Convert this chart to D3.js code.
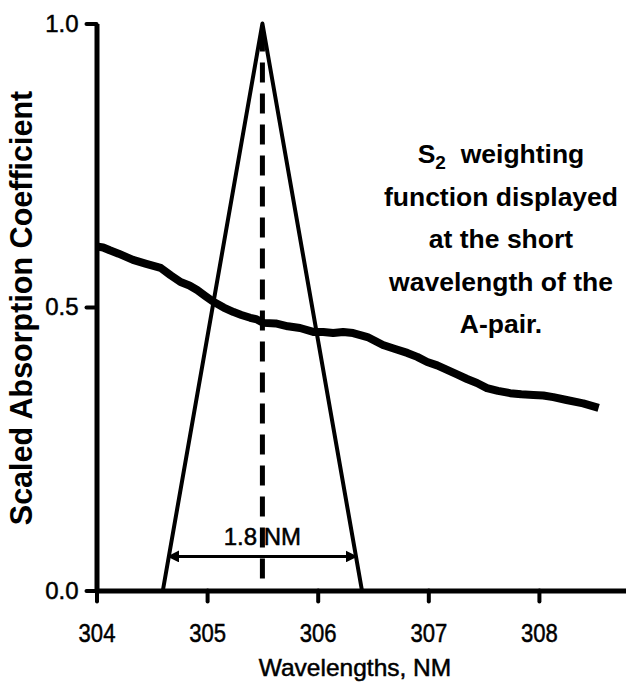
<!DOCTYPE html>
<html><head><meta charset="utf-8">
<script src="https://cdn.jsdelivr.net/npm/d3@7"></script>
<style>
html,body{margin:0;padding:0;background:#fff;}
svg text{font-family:"Liberation Sans",Arial,sans-serif;fill:#000;}
.heavy{stroke:#000;stroke-width:0.5px;}
</style></head>
<body>
<svg id="c" width="626" height="688"></svg>
<script>
// ---- data ----
const xTicks = [304, 305, 306, 307, 308];
const yTicks = [0.0, 0.5, 1.0];
const absWavelength = [304.00,304.06,304.12,304.20,304.33,304.45,304.58,304.67,304.76,304.84,304.91,304.98,305.06,305.15,305.24,305.31,305.39,305.45,305.51,305.62,305.73,305.84,305.96,306.05,306.14,306.23,306.32,306.45,306.52,306.59,306.70,306.81,306.90,306.99,307.08,307.17,307.26,307.35,307.44,307.53,307.63,307.74,307.84,307.95,308.04,308.13,308.25,308.40,308.54];
const absValue      = [0.607,0.605,0.600,0.594,0.583,0.576,0.569,0.556,0.544,0.538,0.530,0.520,0.509,0.499,0.491,0.486,0.481,0.478,0.472,0.471,0.466,0.463,0.456,0.456,0.454,0.456,0.454,0.447,0.440,0.433,0.426,0.419,0.412,0.403,0.397,0.389,0.381,0.373,0.366,0.357,0.352,0.348,0.346,0.345,0.344,0.341,0.336,0.330,0.322];
const triWavelength = [304.6, 305.5, 306.4];
const triValue      = [0, 1, 0];
const centerWavelength = 305.5;
const fwhmStart = 304.65, fwhmEnd = 306.35, fwhmLevel = 0.06;
const fwhmLabel = "1.8 NM";
const noteLines = ["function displayed","at the short","wavelength of the","A-pair."];

const svg = d3.select("#c");
const x = d3.scaleLinear().domain([304, 308.8]).range([96.5, 627.4]);
const y = d3.scaleLinear().domain([0, 1]).range([590.5, 23.5]);

// axes
const gx = svg.append("g").attr("transform", `translate(0,${y(0)})`)
  .call(d3.axisBottom(x).tickValues(xTicks).tickSize(11).tickSizeOuter(0).tickPadding(22).tickFormat(d3.format("d")));
const gy = svg.append("g").attr("transform", `translate(${x(304)},0)`)
  .call(d3.axisLeft(y).tickValues(yTicks).tickSize(10).tickSizeOuter(0).tickPadding(8).tickFormat(d3.format(".1f")));
[gx, gy].forEach(g => {
  g.select(".domain").attr("stroke", "#000").attr("stroke-width", 5);
  g.selectAll(".tick line").attr("stroke", "#000").attr("stroke-width", 4).attr("stroke-linecap", "round");
  g.selectAll(".tick text").attr("font-family", "Liberation Sans, Arial, sans-serif").attr("class", "heavy");
});
gx.selectAll(".tick text").attr("font-size", 26).attr("transform", "scale(0.85,1)");
gy.selectAll(".tick text").attr("font-size", 24);

// dashed center line
svg.append("line")
  .attr("x1", x(centerWavelength)).attr("x2", x(centerWavelength))
  .attr("y1", y(1) + 8).attr("y2", y(0))
  .attr("stroke", "#000").attr("stroke-width", 5).attr("stroke-dasharray", "20,11");

// triangle weighting function
const tri = triWavelength.map((w, i) => [w, triValue[i]]);
svg.append("path").datum(tri)
  .attr("d", d3.line().x(d => x(d[0])).y(d => y(d[1])))
  .attr("fill", "none").attr("stroke", "#000").attr("stroke-width", 4).attr("stroke-linejoin", "round");

// absorption curve
const abs = absWavelength.map((w, i) => [w, absValue[i]]);
svg.append("path").datum(abs)
  .attr("d", d3.line().x(d => x(d[0])).y(d => y(d[1])))
  .attr("fill", "none").attr("stroke", "#000").attr("stroke-width", 8).attr("stroke-linejoin", "round");

// FWHM arrow
svg.append("defs").html(`
 <marker id="ah" viewBox="0 0 10 10" refX="9" refY="5" markerWidth="4" markerHeight="4" orient="auto-start-reverse">
  <path d="M0,0 L10,5 L0,10 z" fill="#000"/></marker>`);
svg.append("line")
  .attr("x1", x(fwhmStart)).attr("x2", x(fwhmEnd))
  .attr("y1", y(fwhmLevel)).attr("y2", y(fwhmLevel))
  .attr("stroke", "#000").attr("stroke-width", 3)
  .attr("marker-start", "url(#ah)").attr("marker-end", "url(#ah)");
svg.append("text").attr("x", x(centerWavelength)).attr("y", y(fwhmLevel) - 11).attr("class", "heavy")
  .attr("text-anchor", "middle").attr("font-size", 24).text(fwhmLabel);

// annotation
const note = svg.append("g").attr("font-weight", "bold").attr("font-size", 26.5).attr("text-anchor", "middle");
const t1 = note.append("text").attr("x", 501).attr("y", 163).attr("xml:space", "preserve");
t1.append("tspan").text("S");
t1.append("tspan").attr("font-size", 19).attr("dy", 6).text("2");
t1.append("tspan").attr("dy", -6).text("  weighting");
noteLines.forEach((s, i) => note.append("text").attr("x", 501).attr("y", 206 + i * 42.3).text(s));

// axis titles
svg.append("text").attr("x", 355).attr("y", 676).attr("text-anchor", "middle").attr("font-size", 24.5)
  .attr("class", "heavy").text("Wavelengths, NM");
svg.append("text").attr("transform", "translate(32,308) rotate(-90)").attr("text-anchor", "middle")
  .attr("font-size", 30.5).attr("font-weight", "bold").text("Scaled Absorption Coefficient");
</script>
</body></html>
